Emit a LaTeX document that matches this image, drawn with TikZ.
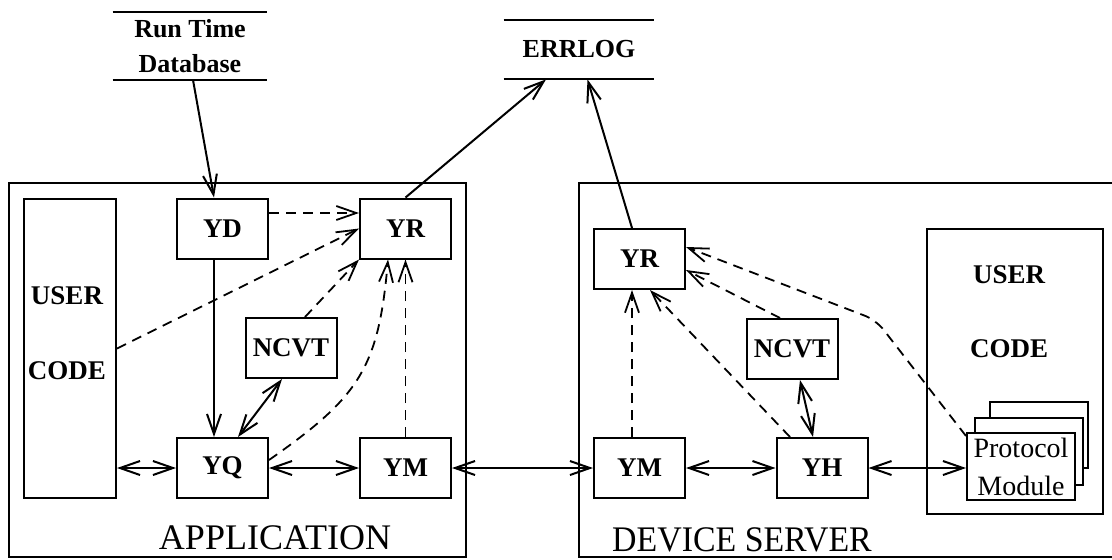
\documentclass[tikz,border=0pt]{standalone}
\usepackage{graphicx}
\usepackage{fontspec}
\setmainfont{Liberation Serif}
\usetikzlibrary{arrows.meta}

\tikzset{
  modbox/.style={draw, line width=1pt, fill=white, minimum width=45.5pt, minimum height=30pt,
    inner sep=0pt, font=\fontsize{13.5}{15}\selectfont\bfseries},
  store/.style={minimum width=77pt, inner sep=0pt, align=center,
    font=\fontsize{13}{17.5}\selectfont\bfseries},
  flow/.style={line width=1pt, -{Straight Barb[length=10pt,width=7pt]}},
  errflow/.style={flow, line width=0.9pt, dash pattern=on 5pt off 3.5pt},
  link/.style={line width=1pt, {Straight Barb[length=10pt,width=7pt]}-{Straight Barb[length=10pt,width=7pt]}},
}

\begin{document}
\begin{tikzpicture}[x=0.5pt, y=-0.5pt]
    \useasboundingbox (0,0) rectangle (1112,559);

    % Processos: aplicacao e servidor de dispositivo
    \draw[line width=1pt] (9,183) rectangle (466,557);
    \draw[line width=1pt] (579,183) rectangle (1140,557);
    \node[font=\fontsize{18}{20}\selectfont] (app) at (275,538) {APPLICATION};
    \node[font=\fontsize{18}{20}\selectfont] (dev) at (742,540) {\scalebox{0.94}[1]{DEVICE SERVER}};

    % Arquivos (linha em cima e embaixo)
    \node[store, minimum height=33.5pt] (rtdb) at (190,46) {Run Time\\Database};
    \node[store, minimum height=29.5pt, minimum width=75pt] (errlog) at (579,49.5) {ERRLOG};
    \foreach \f in {rtdb, errlog}
        \draw[line width=1pt] (\f.north west) -- (\f.north east) (\f.south west) -- (\f.south east);

    % Codigo do usuario
    \node[draw, line width=1pt, minimum width=46pt, minimum height=149.5pt] (ucA) at (70,348.5) {};
    \node[draw, line width=1pt, minimum width=88pt, minimum height=142.5pt] (ucD) at (1015,371.5) {};
    \foreach \x/\yu/\yc [count=\i] in {67/296/371, 1009/275/349} {
        \node[font=\fontsize{13.5}{15}\selectfont\bfseries] (user\i) at (\x,\yu) {USER};
        \node[font=\fontsize{13.5}{15}\selectfont\bfseries] (code\i) at (\x,\yc) {CODE};
    }

    % Pilha de modulos de protocolo
    \draw[line width=0.8pt, fill=white] (990,402) rectangle (1088,468);
    \draw[line width=0.8pt, fill=white] (975,418) rectangle (1083,485);
    \node[draw, line width=1pt, fill=white, minimum width=54pt, minimum height=33.5pt, inner sep=0pt,
        align=center, font=\fontsize{14}{19}\selectfont] (proto) at (1021,466.5) {Protocol\\Module};

    % Modulos: {nome/x/y/rotulo}
    \foreach \id/\x/\y/\txt in {ydA/222.5/228.5/YD, yrA/405.5/228.5/YR, ncvtA/291/348/NCVT,
        yqA/222.5/468/YQ, ymA/405.5/468/YM, yrD/639.5/259/YR, ncvtD/792/349/NCVT,
        ymD/639.5/468/YM, yhD/822/468/YH}
        \node[modbox] (\id) at (\x,\y) {\txt};

    % Fluxo de dados
    \draw[flow] ([xshift=1.5pt]rtdb.south) -- ([xshift=-4.25pt]ydA.north);
    \draw[flow] ([xshift=-4.25pt]ydA.south) -- ([xshift=-4.25pt]yqA.north);
    \draw[flow] (yrA.north) -- ([xshift=-16.5pt]errlog.south);
    \draw[flow] ([xshift=-3.75pt]yrD.north) -- ([xshift=4.25pt]errlog.south);

    % Mensagens de erro (tracejado)
    \draw[errflow] ([yshift=7.75pt]ydA.east) -- ([yshift=7.75pt]yrA.west);
    \draw[errflow] (ucA.east) -- (yrA.west);
    \draw[errflow] ([xshift=7pt]ncvtA.north) -- (yrA.south west);
    \draw[errflow] ([yshift=4pt]yqA.east) to[out=35, in=-95, looseness=1.2] ([xshift=-8.75pt]yrA.south);
    \draw[errflow] (ymA.north) -- (yrA.south);
    \draw[errflow] ([xshift=-3.75pt]ymD.north) -- ([xshift=-3.75pt]yrD.south);
    \draw[errflow] ([xshift=-16pt]yhD.north) -- ([xshift=5.25pt]yrD.south);
    \draw[errflow] ([xshift=-6pt]ncvtD.north) -- ([yshift=-5.5pt]yrD.east);
    \coordinate (bend) at (876,320);
    \draw[errflow, rounded corners=6pt] ([yshift=-2pt]proto.north west) -- (bend) -- ([yshift=6pt]yrD.east);

    % Ligacoes nos dois sentidos
    \draw[link] (ucA.east |- yqA.west) -- (yqA.west);
    \foreach \a/\b in {yqA/ymA, ymA/ymD, ymD/yhD}
        \draw[link] (\a.east) -- (\b.west);
    \draw[link] (yhD.east) -- (yhD.east -| proto.west);
    \draw[link] ([xshift=-4.5pt]ncvtA.south) -- ([xshift=7.75pt]yqA.north);
    \draw[link] ([xshift=4pt]ncvtD.south) -- ([xshift=-4.5pt]yhD.north);
\end{tikzpicture}
\end{document}
